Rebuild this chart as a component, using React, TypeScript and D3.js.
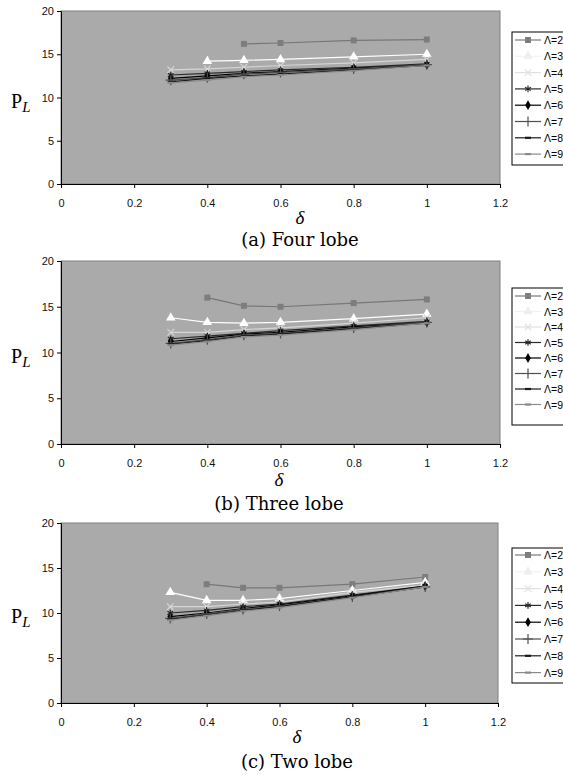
import React, { useRef, useEffect } from 'react';
import * as d3 from 'd3';

// delta values on the x axis
const deltas = [0.3, 0.4, 0.5, 0.6, 0.8, 1.0];
const lambdas = ['Λ=2', 'Λ=3', 'Λ=4', 'Λ=5', 'Λ=6', 'Λ=7', 'Λ=8', 'Λ=9'];
const xTicks = [0, 0.2, 0.4, 0.6, 0.8, 1, 1.2];
const yTicks = [0, 5, 10, 15, 20];

// P_L for each lambda (rows), null = no point
const fourLobe = [
  [null, null, 16.2, 16.3, 16.6, 16.7],
  [null, 14.2, 14.3, 14.4, 14.7, 15.0],
  [13.2, 13.3, 13.5, 13.7, 14.0, 14.4],
  [12.6, 12.8, 13.0, 13.2, 13.5, 13.9],
  [12.2, 12.5, 12.8, 13.0, 13.4, 13.8],
  [12.0, 12.3, 12.7, 12.9, 13.3, 13.8],
  [11.8, 12.2, 12.5, 12.7, 13.2, 13.7],
  [11.7, 12.0, 12.4, 12.6, 13.1, 13.7],
];
const threeLobe = [
  [null, 16.0, 15.1, 15.0, 15.4, 15.8],
  [13.8, 13.3, 13.2, 13.3, 13.7, 14.2],
  [12.2, 12.2, 12.5, 12.7, 13.2, 13.8],
  [11.5, 11.8, 12.1, 12.4, 12.9, 13.4],
  [11.2, 11.6, 12.0, 12.2, 12.8, 13.3],
  [11.0, 11.4, 11.9, 12.1, 12.7, 13.3],
  [10.9, 11.3, 11.8, 12.0, 12.6, 13.2],
  [10.8, 11.2, 11.7, 11.9, 12.5, 13.2],
];
const twoLobe = [
  [null, 13.2, 12.8, 12.8, 13.2, 14.0],
  [12.3, 11.4, 11.4, 11.6, 12.5, 13.4],
  [10.7, 10.7, 11.0, 11.2, 12.3, 13.1],
  [10.0, 10.3, 10.7, 11.0, 12.0, 13.0],
  [9.6, 10.0, 10.5, 10.9, 11.9, 13.0],
  [9.4, 9.9, 10.4, 10.8, 11.8, 12.9],
  [9.3, 9.8, 10.3, 10.7, 11.8, 12.9],
  [9.2, 9.7, 10.2, 10.6, 11.7, 12.9],
];
const captions = ['(a) Four lobe', '(b) Three lobe', '(c) Two lobe'];

// series look: line colour, marker type, marker fill
const styles = [
  { color: '#777777', sym: d3.symbolSquare, size: 36, fill: '#7d7d7d', stroke: false },
  { color: '#ffffff', sym: d3.symbolTriangle, size: 40, fill: '#ffffff', stroke: false },
  { color: '#d6d6d6', sym: d3.symbolTimes, size: 30, fill: 'none', stroke: true },
  { color: '#2a2a2a', sym: d3.symbolAsterisk, size: 30, fill: 'none', stroke: true },
  { color: '#000000', sym: d3.symbolDiamond, size: 28, fill: '#000000', stroke: false },
  { color: '#505050', sym: d3.symbolPlus, size: 36, fill: 'none', stroke: true },
  { color: '#1a1a1a', sym: null, size: 0, fill: 'none', stroke: true },
  { color: '#8a8a8a', sym: null, size: 0, fill: 'none', stroke: true },
];

const layouts = [
  { top: 11, bottom: 184, left: 61, right: 500, tickY: 207, dx: 300, dy: 224, cy: 246, lgTop: 32, lgFirst: 40, lgStep: 16.3, lgBottom: 165 },
  { top: 261, bottom: 444, left: 61, right: 500, tickY: 467, dx: 279, dy: 486, cy: 510, lgTop: 288, lgFirst: 296, lgStep: 15.5, lgBottom: 425 },
  { top: 523, bottom: 703, left: 61, right: 498, tickY: 726, dx: 297, dy: 743, cy: 768, lgTop: 548, lgFirst: 555, lgStep: 16.8, lgBottom: 683 },
];

const App = () => {
  const svgRef = useRef(null);

  useEffect(() => {
    if (!svgRef.current) return;
    const svg = d3.select(svgRef.current);
    svg.selectAll('*').remove();

    const panels = [fourLobe, threeLobe, twoLobe];

    panels.forEach((rows, pi) => {
      const L = layouts[pi];
      const g = svg.append('g');
      const x = d3.scaleLinear().domain([0, 1.2]).range([L.left, L.right]);
      const y = d3.scaleLinear().domain([0, 20]).range([L.bottom, L.top]);

      // plot area
      g.append('rect')
        .attr('x', L.left).attr('y', L.top)
        .attr('width', L.right - L.left).attr('height', L.bottom - L.top)
        .attr('fill', '#aaaaaa')
        .attr('stroke', '#808080');

      // axes
      const yAxis = g.append('g')
        .attr('transform', `translate(${L.left},0)`)
        .call(d3.axisLeft(y).tickValues(yTicks).tickSize(4).tickPadding(3));
      const xAxis = g.append('g')
        .attr('transform', `translate(0,${L.bottom})`)
        .call(d3.axisBottom(x).tickValues(xTicks).tickFormat(d3.format('')).tickSize(4).tickPadding(0));
      [yAxis, xAxis].forEach(a => {
        a.select('.domain').attr('stroke', '#000');
        a.selectAll('.tick line').attr('stroke', '#000');
        a.selectAll('text')
          .attr('font-family', '"Liberation Sans", Arial, sans-serif')
          .attr('font-size', 11)
          .attr('fill', '#111');
      });
      xAxis.selectAll('text').attr('y', null).attr('dy', null)
        .attr('transform', `translate(0,${L.tickY - L.bottom})`);

      // series
      rows.forEach((vals, si) => {
        const st = styles[si];
        const pts = vals
          .map((v, i) => ({ x: deltas[i], v }))
          .filter(p => p.v !== null);
        const line = d3.line<any>().x(p => x(p.x)).y(p => y(p.v));
        g.append('path')
          .attr('d', line(pts))
          .attr('fill', 'none')
          .attr('stroke', st.color)
          .attr('stroke-width', 1.2);
        pts.forEach(p => {
          if (st.sym) {
            g.append('path')
              .attr('d', d3.symbol().type(st.sym).size(st.size)())
              .attr('transform', `translate(${x(p.x)},${y(p.v)})`)
              .attr('fill', st.fill)
              .attr('stroke', st.stroke ? st.color : 'none')
              .attr('stroke-width', 1.2);
          } else {
            g.append('line')
              .attr('x1', x(p.x) - 3).attr('x2', x(p.x) + 3)
              .attr('y1', y(p.v)).attr('y2', y(p.v))
              .attr('stroke', st.color).attr('stroke-width', 2);
          }
        });
      });

      // legend
      g.append('rect')
        .attr('x', 512).attr('y', L.lgTop)
        .attr('width', 60).attr('height', L.lgBottom - L.lgTop)
        .attr('fill', '#ffffff').attr('stroke', '#000');
      lambdas.forEach((lab, si) => {
        const st = styles[si];
        const ly = L.lgFirst + si * L.lgStep;
        const lc = si === 1 ? '#f2f2f2' : si === 2 ? '#e0e0e0' : st.color;
        g.append('line')
          .attr('x1', 515).attr('x2', 541).attr('y1', ly).attr('y2', ly)
          .attr('stroke', lc).attr('stroke-width', 1.2);
        if (st.sym) {
          g.append('path')
            .attr('d', d3.symbol().type(st.sym).size(st.size)())
            .attr('transform', `translate(528,${ly})`)
            .attr('fill', st.fill === 'none' ? 'none' : (si === 1 ? '#eeeeee' : st.fill))
            .attr('stroke', st.stroke ? lc : 'none')
            .attr('stroke-width', 1.2);
        } else {
          g.append('line')
            .attr('x1', 525).attr('x2', 531).attr('y1', ly).attr('y2', ly)
            .attr('stroke', lc).attr('stroke-width', 2.2);
        }
        g.append('text')
          .attr('x', 544).attr('y', ly + 4)
          .attr('font-family', '"Liberation Sans", Arial, sans-serif')
          .attr('font-size', 10.5)
          .text(lab);
      });

      // axis titles
      const pl = g.append('text')
        .attr('x', 11).attr('y', y(10) + 10)
        .attr('font-family', '"Liberation Serif", "DejaVu Serif", serif')
        .attr('font-size', 20);
      pl.append('tspan').text('P');
      pl.append('tspan').attr('dy', 4).attr('font-size', 15).attr('font-style', 'italic').text('L');

      g.append('text')
        .attr('x', L.dx).attr('y', L.dy)
        .attr('text-anchor', 'middle')
        .attr('font-family', '"Liberation Serif", "DejaVu Serif", serif')
        .attr('font-style', 'italic')
        .attr('font-size', 19)
        .text('δ');

      g.append('text')
        .attr('x', L.dx).attr('y', L.cy)
        .attr('text-anchor', 'middle')
        .attr('font-family', '"DejaVu Serif", "Liberation Serif", serif')
        .attr('font-size', 18)
        .text(captions[pi]);
    });
  }, []);

  return (
    <svg ref={svgRef} width={563} height={775}
      style={{ position: 'absolute', left: 0, top: 0, background: '#fff' }} />
  );
};

export default App;
